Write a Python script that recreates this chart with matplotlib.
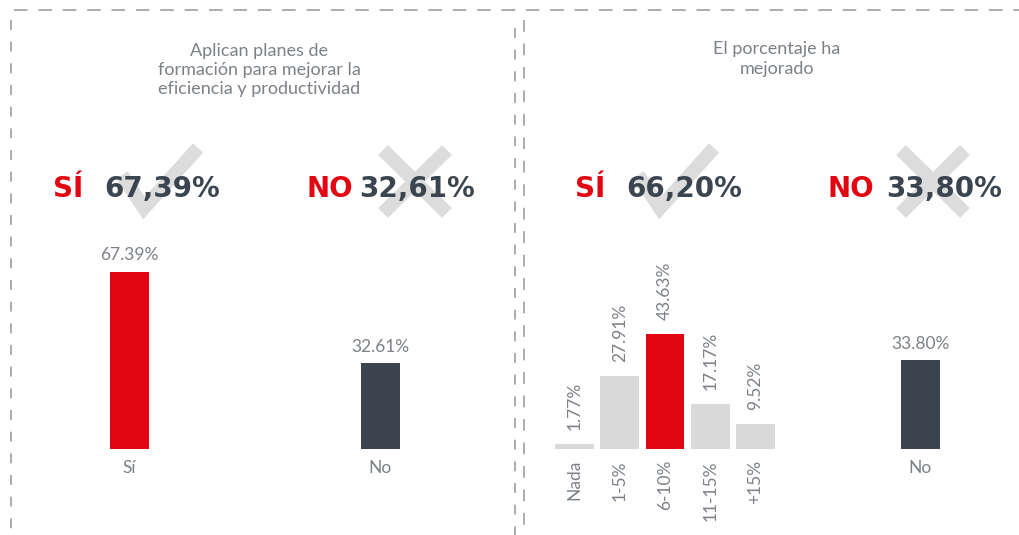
import numpy as np
import matplotlib
matplotlib.use('Agg')
import matplotlib.pyplot as plt
from matplotlib.lines import Line2D

# data
left_title = 'Aplican planes de\nformación para mejorar la\neficiencia y productividad'
right_title = 'El porcentaje ha\nmejorado'
left_cats = ['Sí', 'No']
left_vals = [67.39, 32.61]
mejora_cats = ['Nada', '1-5%', '6-10%', '11-15%', '+15%']
mejora_vals = [1.77, 27.91, 43.63, 17.17, 9.52]
right_no_val = 33.80
big_left = [('SÍ', '67,39%'), ('NO', '32,61%')]
big_right = [('SÍ', '66,20%'), ('NO', '33,80%')]

RED = '#e20613'
DARK = '#3a4550'
LIGHT = '#d9d9d9'
GREY_TXT = '#7c8187'
BORDER = '#a3a7ab'

W, H = 1020, 535
fig = plt.figure(figsize=(W / 100, H / 100), dpi=100)

def fx(x):
    return x / W

def fy(y):
    return 1 - y / H

BASE = 449      # bar baseline (px from top)
PXU = 2.63      # px per percentage unit
AX_H = 100 * PXU

def bar_axes(x0, x1):
    ax = fig.add_axes([fx(x0), fy(BASE), (x1 - x0) / W, AX_H / H])
    ax.set_ylim(0, 100)
    ax.patch.set_alpha(0)
    for s in ax.spines.values():
        s.set_visible(False)
    ax.set_yticks([])
    ax.tick_params(axis='x', length=0, colors=GREY_TXT, labelsize=12.5, pad=8)
    return ax

lbl_font = dict(family='Lato', color=GREY_TXT, fontsize=12.5)

# left panel bars
ax1 = bar_axes(4, 506)
ax1.set_xlim(-0.5, 1.5)
x1 = np.arange(len(left_cats))
ax1.bar(x1, left_vals, width=0.155, color=[RED, DARK])
ax1.set_xticks(x1, left_cats, fontfamily='Lato')
for x, v in zip(x1, left_vals):
    ax1.annotate(f'{v:.2f}%', (x, v), xytext=(0, 6), textcoords='offset points',
                 ha='center', va='bottom', **lbl_font)

# right panel: breakdown of improvement
ax2 = bar_axes(552, 778)
ax2.set_xlim(-0.5, 4.5)
x2 = np.arange(len(mejora_cats))
cols = [LIGHT, LIGHT, RED, LIGHT, LIGHT]
ax2.bar(x2, mejora_vals, width=0.86, color=cols)
ax2.set_xticks(x2, mejora_cats, rotation=90, fontfamily='Lato')
for x, v in zip(x2, mejora_vals):
    ax2.annotate(f'{v:.2f}%', (x, v), xytext=(0, 10), textcoords='offset points',
                 ha='center', va='bottom', rotation=90, **lbl_font)

# right panel: No bar
ax3 = bar_axes(870.5, 970.5)
ax3.set_xlim(-0.5, 0.5)
ax3.bar([0], [right_no_val], width=0.39, color=DARK)
ax3.set_xticks([0], ['No'], fontfamily='Lato')
ax3.annotate(f'{right_no_val:.2f}%', (0, right_no_val), xytext=(0, 6),
             textcoords='offset points', ha='center', va='bottom', **lbl_font)

# titles
fig.text(fx(259), fy(70), left_title, ha='center', va='center', linespacing=1.25,
         family='Lato', fontsize=13, color=GREY_TXT)
fig.text(fx(777), fy(59), right_title, ha='center', va='center', linespacing=1.25,
         family='Lato', fontsize=13, color=GREY_TXT)

# check / cross icons
def icon_line(xs, ys):
    fig.add_artist(Line2D([fx(x) for x in xs], [fy(y) for y in ys],
                          transform=fig.transFigure, color='#dcdcdc', lw=10,
                          solid_capstyle='butt', solid_joinstyle='miter', zorder=0))

def check(cx):
    icon_line([cx - 38, cx - 16, cx + 38], [175, 208, 148])

def cross(cx):
    icon_line([cx - 32, cx + 32], [150, 213])
    icon_line([cx + 32, cx - 32], [150, 213])

check(160); cross(415)
check(676); cross(933)

# big headline numbers
def headline(x_lab, x_num, lab, num):
    fig.text(fx(x_lab), fy(189), lab, color=RED, fontsize=20, fontweight='bold',
             va='center', ha='left', zorder=2)
    fig.text(fx(x_num), fy(189), num, color=DARK, fontsize=20, fontweight='bold',
             va='center', ha='left', zorder=2)

for (x_lab, x_num), (lab, num) in zip([(53, 104), (307, 359)], big_left):
    headline(x_lab, x_num, lab, num)
for (x_lab, x_num), (lab, num) in zip([(575, 626), (828, 886)], big_right):
    headline(x_lab, x_num, lab, num)

# dashed borders
def dashed(xs, ys, pat):
    fig.add_artist(Line2D([fx(x) for x in xs], [fy(y) for y in ys],
                          transform=fig.transFigure, color=BORDER, lw=1.3,
                          linestyle=(0, pat), zorder=0))

dashed([14, 1020], [10, 10], (7.5, 6))
dashed([11, 11], [20, 535], (5.5, 6.5))
dashed([515, 515], [28, 535], (5.5, 6.5))
dashed([524, 524], [20, 535], (6.5, 6.5))
dashed([511, 515], [10, 10], (3, 0.1))

fig.savefig('out.png', dpi=100)
